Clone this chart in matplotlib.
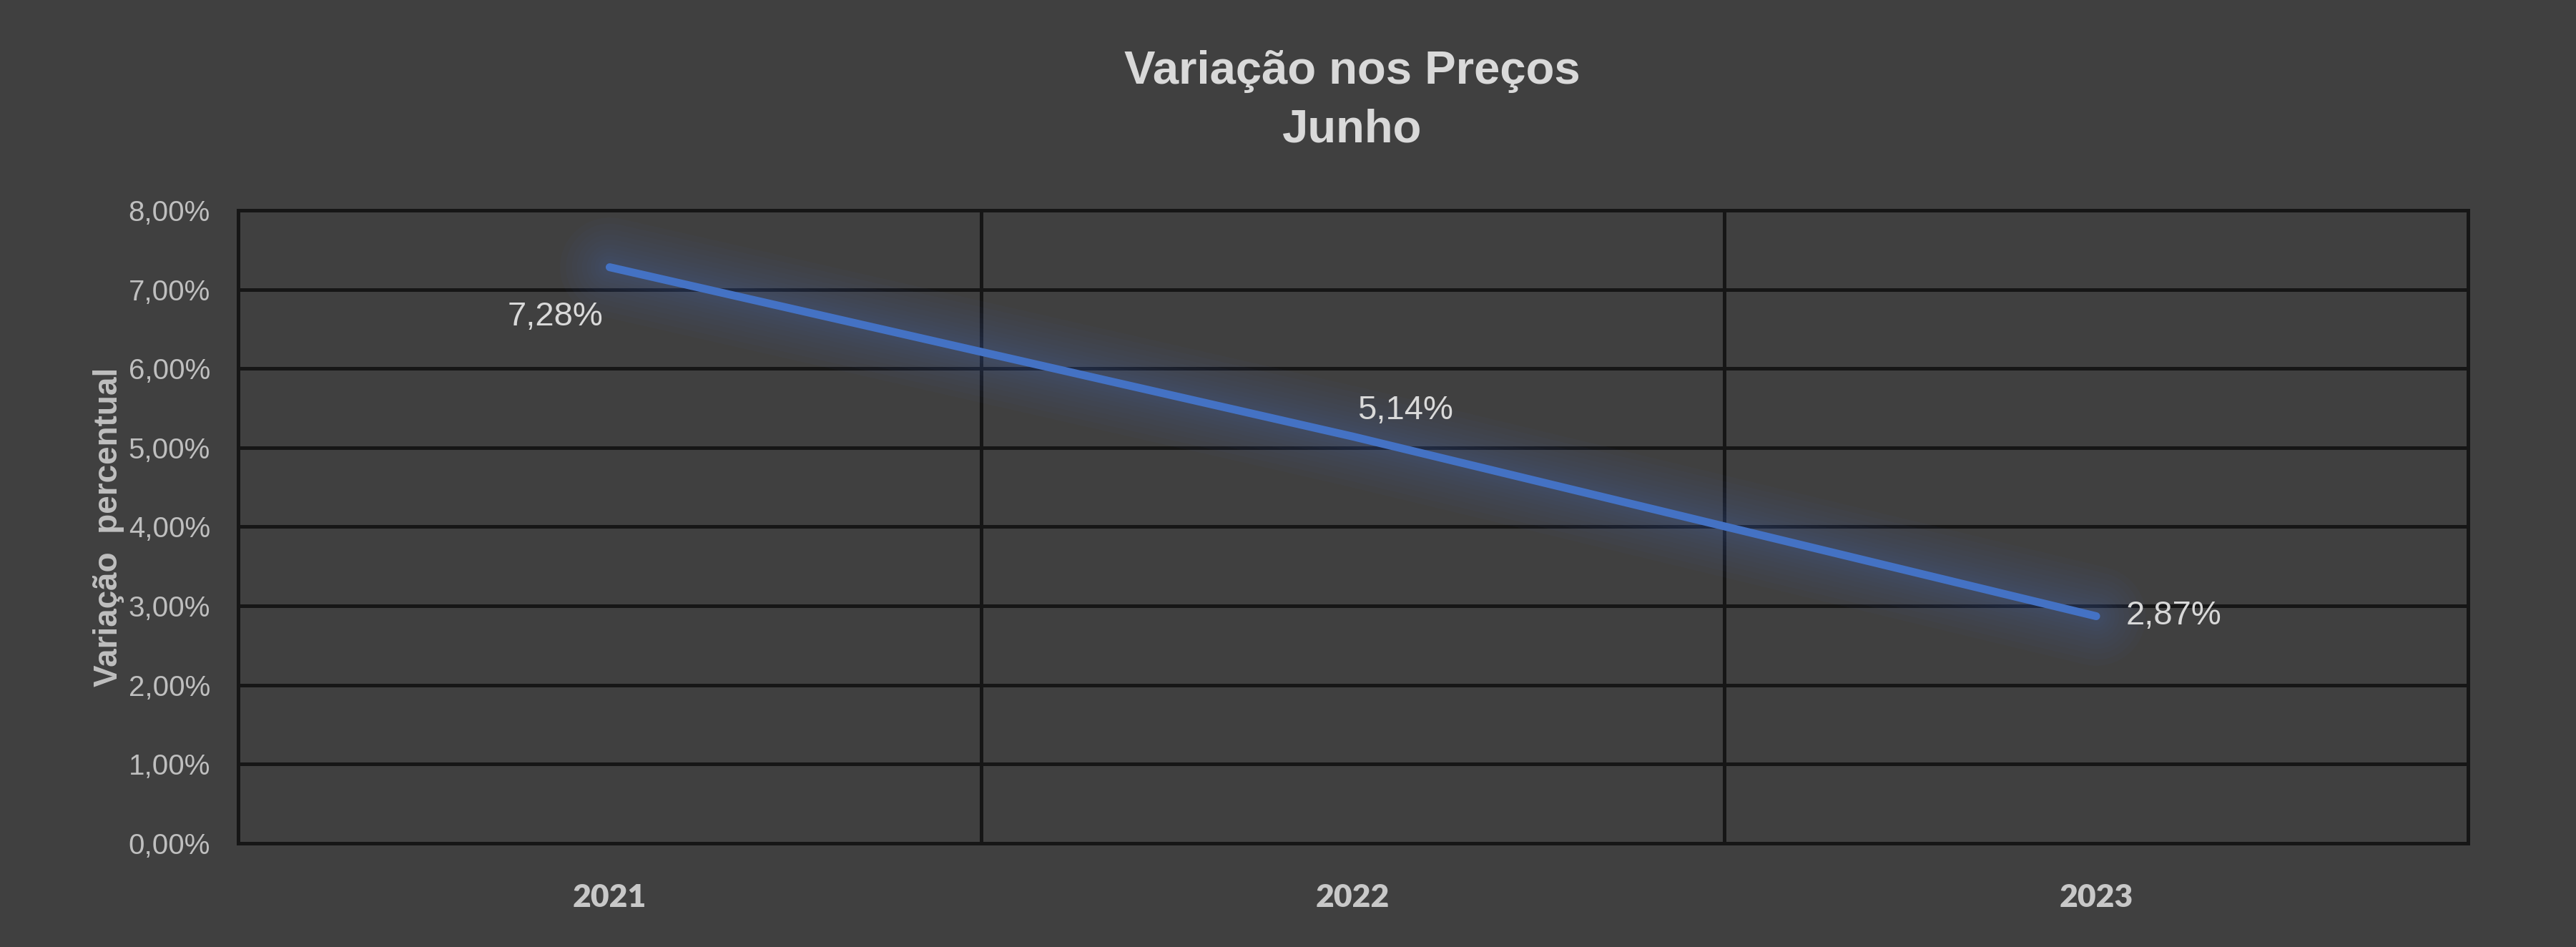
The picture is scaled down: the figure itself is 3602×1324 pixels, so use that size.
import matplotlib
matplotlib.use('Agg')
import matplotlib.pyplot as plt
from matplotlib.ticker import FuncFormatter, FixedLocator

years = ['2021', '2022', '2023']
variacao = [7.28, 5.14, 2.87]
rotulos = ['7,28%', '5,14%', '2,87%']
y_ticks = [0, 1, 2, 3, 4, 5, 6, 7, 8]

BG = '#404040'
GRID = '#161616'
BLUE = '#4472C4'
NARROW = ['Liberation Sans Narrow', 'Liberation Sans', 'DejaVu Sans']


def plot_variacao():
    fig = plt.figure(figsize=(36.02, 13.24), dpi=100, facecolor=BG)
    ax = fig.add_axes([0.0924, 0.1095, 0.8656, 0.6685], facecolor=BG)

    x = list(range(len(years)))

    # glow around the line
    for w in [100, 88, 76, 66, 56, 46, 38, 30, 23, 17]:
        ax.plot(x, variacao, color=BLUE, lw=w, alpha=0.032, solid_capstyle='round', zorder=3)
    ax.plot(x, variacao, color=BLUE, lw=8, solid_capstyle='round', zorder=4)

    offsets = [(-55, -50), (53, 26), (78, 0)]
    for xi, yi, txt, off in zip(x, variacao, rotulos, offsets):
        ax.annotate(txt, (xi, yi), xytext=off, textcoords='offset points',
                    ha='center', va='center', fontsize=34, color='#d9d9d9',
                    family=NARROW, zorder=5)

    ax.set_xlim(-0.5, len(years) - 0.5)
    ax.set_ylim(0, 8)
    ax.set_xticks(x)
    ax.set_xticklabels(years, fontsize=32, fontweight='heavy', color='#c8c8c8', family=['Lato', 'DejaVu Sans'])
    ax.xaxis.set_minor_locator(FixedLocator([0.5, 1.5]))
    ax.set_yticks(y_ticks)
    ax.yaxis.set_major_formatter(FuncFormatter(lambda v, p: f'{v:.2f}'.replace('.', ',') + '%'))
    for lab in ax.get_yticklabels():
        lab.set_family(NARROW)
        lab.set_fontsize(29)
        lab.set_color('#bfbfbf')

    ax.tick_params(axis='both', which='both', length=0)
    ax.tick_params(axis='y', pad=28)
    ax.tick_params(axis='x', pad=40)

    ax.grid(True, axis='y', which='major', color=GRID, lw=3.6, zorder=1)
    ax.grid(True, axis='x', which='minor', color=GRID, lw=3.6, zorder=1)
    ax.grid(False, axis='x', which='major')
    for s in ax.spines.values():
        s.set_color(GRID)
        s.set_linewidth(3.6)

    ax.set_ylabel('Variação  percentual', fontsize=33, fontweight='bold', color='#bfbfbf', family=NARROW)
    ax.yaxis.set_label_coords(-0.051, 0.5)

    fig.text(0.525, 0.947, 'Variação nos Preços\nJunho', ha='center', va='top', fontsize=47,
             fontweight='bold', color='#d9d9d9', family=NARROW, linespacing=1.45)

    fig.savefig('out.png', dpi=100, facecolor=BG)


def main():
    plot_variacao()


if __name__ == '__main__':
    main()
